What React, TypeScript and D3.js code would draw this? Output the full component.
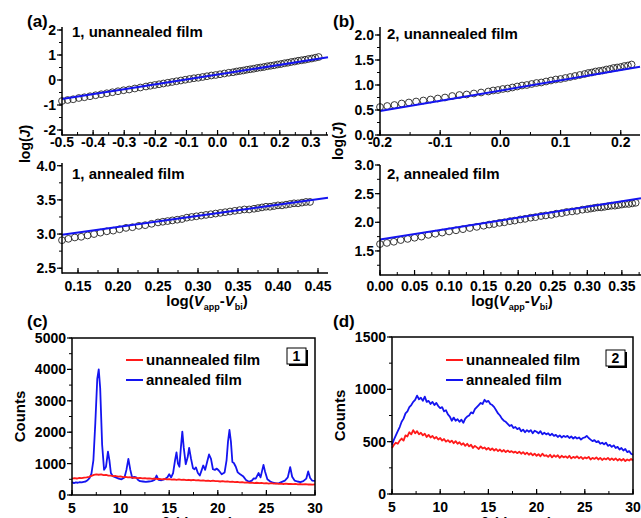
import React from "react";
import * as d3 from "d3";

const FONT = "'Liberation Sans', Arial, Helvetica, sans-serif";
const BLUE = "#1414f0";
const RED = "#ff1a1a";

// (a) top: 1, unannealed film  -- log(V) vs log(J)
const a1X = [-0.5, -0.482, -0.464, -0.446, -0.428, -0.41, -0.392, -0.374, -0.356, -0.338, -0.32, -0.302, -0.284, -0.266, -0.248, -0.23,
  -0.216, -0.202, -0.188, -0.174, -0.16, -0.146, -0.132, -0.118, -0.104, -0.09, -0.076, -0.062, -0.048, -0.034, -0.02, -0.006, 0.008, 0.022, 0.036, 0.05,
  0.061, 0.072, 0.083, 0.094, 0.105, 0.116, 0.127, 0.138, 0.149, 0.16, 0.171, 0.182, 0.193, 0.204, 0.215, 0.226, 0.237, 0.248, 0.259, 0.27, 0.281, 0.292, 0.303, 0.314, 0.325];
const a1Y = [-0.84, -0.8, -0.77, -0.72, -0.69, -0.65, -0.61, -0.57, -0.53, -0.49, -0.45, -0.41, -0.38, -0.34, -0.3, -0.26,
  -0.23, -0.2, -0.17, -0.14, -0.11, -0.08, -0.05, -0.02, 0.01, 0.04, 0.07, 0.09, 0.12, 0.15, 0.18, 0.2, 0.23, 0.26, 0.29, 0.31,
  0.34, 0.36, 0.38, 0.41, 0.43, 0.45, 0.48, 0.5, 0.52, 0.55, 0.57, 0.59, 0.62, 0.64, 0.67, 0.69, 0.72, 0.74, 0.77, 0.79, 0.81, 0.84, 0.86, 0.89, 0.92];
const a1Fit = [[-0.5, -0.76], [0.355, 0.91]];

// (a) bottom: 1, annealed film
const a2X = [0.13, 0.138, 0.146, 0.154, 0.162, 0.17, 0.178, 0.186, 0.194, 0.202, 0.21, 0.218, 0.226, 0.234, 0.242, 0.25,
  0.256, 0.262, 0.268, 0.274, 0.28, 0.286, 0.292, 0.298, 0.304, 0.31, 0.316, 0.322, 0.328, 0.334, 0.34, 0.346, 0.352, 0.358, 0.364, 0.37,
  0.375, 0.38, 0.385, 0.39, 0.395, 0.4, 0.405, 0.41, 0.415, 0.42, 0.425, 0.43, 0.435, 0.44];
const a2Y = [2.91, 2.93, 2.95, 2.96, 2.98, 3.0, 3.02, 3.04, 3.05, 3.07, 3.09, 3.1, 3.12, 3.13, 3.15, 3.17,
  3.18, 3.19, 3.2, 3.21, 3.22, 3.24, 3.25, 3.26, 3.27, 3.28, 3.29, 3.3, 3.31, 3.32, 3.33, 3.34, 3.35, 3.36, 3.36, 3.37,
  3.38, 3.39, 3.4, 3.4, 3.41, 3.42, 3.42, 3.43, 3.44, 3.45, 3.45, 3.46, 3.47, 3.47];
const a2Fit = [[0.13, 2.99], [0.4625, 3.53]];

// (b) top: 2, unannealed film
const b1X = [-0.2, -0.188, -0.176, -0.164, -0.152, -0.14, -0.128, -0.116, -0.104, -0.092, -0.08, -0.068, -0.056, -0.044, -0.032, -0.02,
  -0.012, -0.004, 0.004, 0.012, 0.02, 0.028, 0.036, 0.044, 0.052, 0.06, 0.068, 0.076, 0.084, 0.092, 0.1, 0.108, 0.116, 0.124, 0.132, 0.14,
  0.146, 0.152, 0.158, 0.164, 0.17, 0.176, 0.182, 0.188, 0.194, 0.2, 0.206, 0.212, 0.218];
const b1Y = [0.56, 0.58, 0.6, 0.63, 0.65, 0.67, 0.69, 0.71, 0.73, 0.75, 0.78, 0.8, 0.81, 0.83, 0.85, 0.87,
  0.89, 0.9, 0.92, 0.93, 0.95, 0.97, 0.99, 1.0, 1.02, 1.04, 1.05, 1.07, 1.09, 1.11, 1.12, 1.14, 1.16, 1.18, 1.2, 1.22,
  1.24, 1.25, 1.27, 1.28, 1.29, 1.31, 1.32, 1.34, 1.35, 1.36, 1.38, 1.39, 1.41];
const b1Fit = [[-0.2, 0.48], [0.232, 1.364]];

// (b) bottom: 2, annealed film
const b2X = [0.0, 0.01, 0.02, 0.03, 0.04, 0.05, 0.06, 0.07, 0.08, 0.09, 0.1, 0.11, 0.12, 0.13, 0.14, 0.15,
  0.158, 0.165, 0.173, 0.18, 0.188, 0.195, 0.203, 0.21, 0.218, 0.225, 0.233, 0.24, 0.248, 0.255, 0.263, 0.27, 0.278, 0.285, 0.293, 0.3,
  0.305, 0.31, 0.315, 0.32, 0.325, 0.33, 0.335, 0.34, 0.345, 0.35, 0.355, 0.36, 0.365, 0.37];
const b2Y = [1.62, 1.64, 1.66, 1.69, 1.71, 1.73, 1.75, 1.78, 1.8, 1.82, 1.84, 1.86, 1.88, 1.9, 1.92, 1.94,
  1.96, 1.97, 1.99, 2.0, 2.02, 2.03, 2.05, 2.06, 2.08, 2.09, 2.11, 2.12, 2.13, 2.15, 2.16, 2.18, 2.19, 2.2, 2.22, 2.23,
  2.24, 2.25, 2.26, 2.26, 2.27, 2.28, 2.29, 2.29, 2.3, 2.31, 2.32, 2.32, 2.33, 2.34];
const b2Fit = [[0, 1.7], [0.3777, 2.42]];

// (c) XRD of 1: [2theta, counts]
const cAnnealed: [number, number][] = [
  [5.0, 410], [5.2, 380], [5.4, 400], [5.6, 390], [5.8, 410], [6.0, 400], [6.2, 420], [6.4, 430], [6.6, 470], [6.8, 540],
  [7.0, 680], [7.2, 1100], [7.4, 2300], [7.6, 3700], [7.75, 4000], [7.9, 3400], [8.1, 1600], [8.3, 800], [8.5, 900], [8.7, 1380],
  [8.85, 1100], [9.0, 700], [9.2, 600], [9.5, 560], [9.8, 520], [10.1, 500], [10.4, 560], [10.6, 800], [10.8, 1150], [11.0, 800],
  [11.2, 540], [11.4, 580], [11.6, 560], [11.8, 480], [12.0, 440], [12.3, 430], [12.6, 420], [12.9, 430], [13.2, 440], [13.5, 480],
  [13.7, 620], [13.9, 480], [14.2, 470], [14.5, 500], [14.8, 560], [15.0, 660], [15.2, 560], [15.4, 700], [15.6, 1100], [15.75, 1360],
  [15.9, 1000], [16.05, 900], [16.2, 1500], [16.35, 2020], [16.5, 1500], [16.7, 980], [16.9, 1200], [17.05, 1500], [17.25, 1150], [17.45, 850],
  [17.6, 820], [17.75, 880], [17.95, 700], [18.15, 620], [18.35, 800], [18.5, 940], [18.7, 800], [18.9, 1050], [19.1, 1290], [19.3, 1150],
  [19.5, 820], [19.7, 800], [19.9, 840], [20.1, 780], [20.4, 660], [20.7, 720], [20.9, 1100], [21.05, 1700], [21.2, 2070], [21.35, 1700],
  [21.5, 1050], [21.65, 1020], [21.85, 900], [22.05, 720], [22.3, 660], [22.6, 600], [22.9, 480], [23.2, 420], [23.5, 460], [23.7, 530],
  [23.9, 520], [24.2, 700], [24.4, 560], [24.55, 760], [24.7, 960], [24.85, 760], [25.1, 500], [25.4, 430], [25.7, 390], [26.0, 370],
  [26.3, 380], [26.6, 420], [26.9, 460], [27.2, 560], [27.45, 890], [27.65, 580], [27.9, 460], [28.2, 430], [28.5, 410], [28.8, 440],
  [29.1, 520], [29.3, 750], [29.5, 540], [29.7, 460], [30.0, 450],
];
// unannealed 1, every 0.25 deg from 5
const cUnannealed = [520, 535, 525, 545, 540, 555, 560, 580, 610, 640, 660, 645, 655, 630, 640, 615, 620, 600, 605, 585,
  590, 570, 580, 560, 565, 550, 555, 540, 545, 530, 540, 525, 530, 515, 525, 510, 515, 500, 510, 495,
  505, 490, 500, 485, 495, 480, 490, 475, 485, 470, 480, 465, 470, 455, 465, 450, 460, 445, 455, 440,
  445, 430, 440, 425, 435, 420, 425, 410, 420, 405, 410, 395, 400, 385, 395, 380, 390, 375, 385, 370,
  380, 365, 375, 360, 370, 355, 365, 350, 360, 350, 355, 345, 355, 340, 350, 335, 345, 335, 340, 330, 340];

// (d) XRD of 2, every 0.2 deg from 5
const dAnnealed = [470, 520, 560, 600, 640, 690, 720, 770, 790, 830, 850, 880, 900, 940, 905, 920, 890, 930, 880, 890,
  860, 880, 850, 870, 840, 820, 830, 790, 800, 760, 740, 700, 730, 700, 715, 690, 710, 680, 720, 740,
  750, 780, 770, 810, 830, 850, 870, 860, 900, 880, 890, 860, 850, 830, 800, 770, 750, 720, 700, 690,
  670, 650, 660, 630, 640, 620, 630, 600, 615, 590, 610, 595, 610, 580, 605, 595, 580, 600, 570, 585,
  570, 580, 560, 575, 555, 565, 545, 560, 540, 555, 545, 555, 535, 550, 530, 545, 530, 540, 520, 535,
  540, 555, 535, 520, 505, 515, 495, 505, 480, 490, 475, 490, 460, 470, 450, 465, 440, 450, 425, 440,
  415, 430, 400, 410, 385, 375];
const dUnannealed = [440, 470, 490, 480, 510, 530, 510, 560, 550, 590, 570, 610, 580, 600, 570, 585, 560, 575, 545, 565,
  540, 555, 530, 545, 520, 535, 510, 525, 500, 515, 495, 510, 485, 505, 480, 495, 470, 485, 460, 480,
  455, 470, 440, 460, 445, 430, 455, 435, 445, 425, 440, 420, 435, 415, 430, 410, 425, 405, 420, 400,
  415, 400, 410, 395, 405, 390, 405, 385, 400, 380, 395, 375, 390, 370, 385, 365, 380, 360, 385, 365,
  370, 355, 375, 350, 370, 355, 370, 345, 365, 350, 360, 345, 365, 340, 355, 345, 360, 340, 355, 335,
  350, 340, 355, 330, 345, 335, 350, 330, 345, 325, 340, 330, 345, 325, 340, 325, 340, 320, 335, 320,
  335, 315, 330, 320, 335, 320];

const minorTicks = (d: number[], step: number) => {
  const lo = Math.min(d[0], d[1]);
  const hi = Math.max(d[0], d[1]);
  return d3.range(Math.ceil(lo / step - 1e-9), Math.floor(hi / step + 1e-9) + 1).map((k) => k * step);
};

const jvPanels = [
  {
    key: "a1", xs: a1X, ys: a1Y, fit: a1Fit, title: "1, unannealed film", tx: 72, ty: 37,
    xDomain: [-0.5, 0.355], xRange: [62, 328], yDomain: [-2.2, 2.12], yRange: [135, 27],
    xTicks: [-0.5, -0.4, -0.3, -0.2, -0.1, 0, 0.1, 0.2, 0.3], xDec: 1, xMinor: 0.05, xLab: 12,
    yTicks: [-2, -1, 0, 1, 2], yDec: 0, yMinor: 0.5,
  },
  {
    key: "a2", xs: a2X, ys: a2Y, fit: a2Fit, title: "1, annealed film", tx: 72, ty: 179,
    xDomain: [0.13, 0.4625], xRange: [62, 328], yDomain: [2.43, 4.04], yRange: [273, 163],
    xTicks: [0.15, 0.2, 0.25, 0.3, 0.35, 0.4, 0.45], xDec: 2, xMinor: 0.025, xLab: 18,
    yTicks: [2.5, 3.0, 3.5, 4.0], yDec: 1, yMinor: 0.25,
  },
  {
    key: "b1", xs: b1X, ys: b1Y, fit: b1Fit, title: "2, unannealed film", tx: 387, ty: 39,
    xDomain: [-0.2, 0.232], xRange: [380, 640], yDomain: [0, 2.16], yRange: [135, 27],
    xTicks: [-0.2, -0.1, 0, 0.1, 0.2], xDec: 1, xMinor: 0.05, xLab: 12,
    yTicks: [0, 0.5, 1.0, 1.5, 2.0], yDec: 1, yMinor: 0.25,
  },
  {
    key: "b2", xs: b2X, ys: b2Y, fit: b2Fit, title: "2, annealed film", tx: 387, ty: 179,
    xDomain: [0, 0.3777], xRange: [380, 641], yDomain: [1.08, 3.0], yRange: [275, 165],
    xTicks: [0, 0.05, 0.1, 0.15, 0.2, 0.25, 0.3, 0.35], xDec: 2, xMinor: 0.025, xLab: 16,
    yTicks: [1.5, 2.0, 2.5, 3.0], yDec: 1, yMinor: 0.25,
  },
];

const xrdPanels = [
  {
    key: "c", label: "1", blue: cAnnealed,
    red: cUnannealed.map((v, i) => [5 + i * 0.25, v] as [number, number]),
    xRange: [72, 315], yDomain: [0, 5000], yRange: [495, 338], yTicks: [0, 1000, 2000, 3000, 4000, 5000], yMinor: 500,
    legX: 126, boxX: 287, boxY: 348, countsX: 20,
  },
  {
    key: "d", label: "2",
    blue: dAnnealed.map((v, i) => [5 + i * 0.2, v] as [number, number]),
    red: dUnannealed.map((v, i) => [5 + i * 0.2, v] as [number, number]),
    xRange: [392, 633], yDomain: [0, 1500], yRange: [494, 337], yTicks: [0, 500, 1000, 1500], yMinor: 250,
    legX: 446, boxX: 606, boxY: 350, countsX: 340,
  },
];
const xrdXTicks = [5, 10, 15, 20, 25, 30];

function JVPanel({ p }: { p: any }) {
  const x = d3.scaleLinear().domain(p.xDomain).range(p.xRange);
  const y = d3.scaleLinear().domain(p.yDomain).range(p.yRange);
  const [x0, x1] = p.xRange;
  const [yb, yt] = p.yRange;
  const fitPath = d3.line<number[]>().x((d) => x(d[0])).y((d) => y(d[1]))(p.fit);
  return (
    <g>
      {p.xs.map((v: number, i: number) => (
        <circle key={i} cx={x(v)} cy={y(p.ys[i])} r={3.4} fill="none" stroke="#222" strokeWidth={0.9} />
      ))}
      <path d={fitPath || ""} fill="none" stroke={BLUE} strokeWidth={2} />
      <line x1={x0} x2={x0} y1={yt} y2={yb + 0.75} stroke="#000" strokeWidth={1.5} />
      <line x1={x0} x2={x1} y1={yb} y2={yb} stroke="#000" strokeWidth={1.5} />
      {minorTicks(p.xDomain, p.xMinor).map((v) => (
        <line key={"xm" + v} x1={x(v)} x2={x(v)} y1={yb} y2={yb - 3} stroke="#000" strokeWidth={1} />
      ))}
      {minorTicks(p.yDomain, p.yMinor).map((v) => (
        <line key={"ym" + v} x1={x0} x2={x0 - 3} y1={y(v)} y2={y(v)} stroke="#000" strokeWidth={1} />
      ))}
      {p.yTicks.map((v: number) => (
        <g key={"y" + v}>
          <line x1={x0} x2={x0 - 5} y1={y(v)} y2={y(v)} stroke="#000" strokeWidth={1.2} />
          <text x={x0 - 6} y={y(v)} dy="0.36em" textAnchor="end" fontSize={14} fontWeight="bold">
            {v.toFixed(p.yDec)}
          </text>
        </g>
      ))}
      {p.xTicks.map((v: number) => (
        <g key={"x" + v}>
          <line x1={x(v)} x2={x(v)} y1={yb} y2={yb - 5} stroke="#000" strokeWidth={1.2} />
          <text x={x(v)} y={yb + p.xLab} textAnchor="middle" fontSize={14} fontWeight="bold">
            {v.toFixed(p.xDec)}
          </text>
        </g>
      ))}
      <text x={p.tx} y={p.ty} fontSize={15} fontWeight="bold">{p.title}</text>
    </g>
  );
}

function XRDPanel({ p }: { p: any }) {
  const x = d3.scaleLinear().domain([5, 30]).range(p.xRange);
  const y = d3.scaleLinear().domain(p.yDomain).range(p.yRange);
  const [x0, x1] = p.xRange;
  const [yb, yt] = p.yRange;
  const line = d3.line<[number, number]>().x((d) => x(d[0])).y((d) => y(d[1]));
  return (
    <g>
      <path d={line(p.blue) || ""} fill="none" stroke={BLUE} strokeWidth={1.8} strokeLinejoin="round" />
      <path d={line(p.red) || ""} fill="none" stroke={RED} strokeWidth={1.8} strokeLinejoin="round" />
      <rect x={x0} y={yt} width={x1 - x0} height={yb - yt} fill="none" stroke="#000" strokeWidth={1.5} />
      {minorTicks([5, 30], 2.5).map((v) => (
        <line key={"xm" + v} x1={x(v)} x2={x(v)} y1={yb} y2={yb - 3} stroke="#000" strokeWidth={1} />
      ))}
      {minorTicks(p.yDomain, p.yMinor).map((v) => (
        <line key={"ym" + v} x1={x0} x2={x0 - 3} y1={y(v)} y2={y(v)} stroke="#000" strokeWidth={1} />
      ))}
      {xrdXTicks.map((v) => (
        <g key={"x" + v}>
          <line x1={x(v)} x2={x(v)} y1={yb} y2={yb - 5} stroke="#000" strokeWidth={1.2} />
          <text x={x(v)} y={yb + 18} textAnchor="middle" fontSize={14} fontWeight="bold">{v}</text>
        </g>
      ))}
      {p.yTicks.map((v: number) => (
        <g key={"y" + v}>
          <line x1={x0} x2={x0 - 5} y1={y(v)} y2={y(v)} stroke="#000" strokeWidth={1.2} />
          <text x={x0 - 6} y={y(v)} dy="0.36em" textAnchor="end" fontSize={14} fontWeight="bold">{v}</text>
        </g>
      ))}
      {/* legend */}
      <line x1={p.legX} x2={p.legX + 17} y1={360} y2={360} stroke={RED} strokeWidth={2} />
      <text x={p.legX + 20} y={365} fontSize={15} fontWeight="bold">unannealed film</text>
      <line x1={p.legX} x2={p.legX + 17} y1={380} y2={380} stroke={BLUE} strokeWidth={2} />
      <text x={p.legX + 20} y={385} fontSize={15} fontWeight="bold">annealed film</text>
      <rect x={p.boxX + 2} y={p.boxY + 2} width={19} height={16} fill="#000" />
      <rect x={p.boxX} y={p.boxY} width={19} height={16} fill="#fff" stroke="#000" strokeWidth={1} />
      <text x={p.boxX + 9.5} y={p.boxY + 13} textAnchor="middle" fontSize={14} fontWeight="bold">{p.label}</text>
      <text transform={`translate(${p.countsX},${(yb + yt) / 2}) rotate(-90)`} textAnchor="middle" dy="0.35em" fontSize={15} fontWeight="bold">
        Counts
      </text>
      <text x={(x0 + x1) / 2} y={528} textAnchor="middle" fontSize={15} fontWeight="bold">2θ (degree)</text>
    </g>
  );
}

function VLabel({ cx }: { cx: number }) {
  return (
    <text x={cx} y={306} textAnchor="middle" fontSize={15} fontWeight="bold">
      log(<tspan fontStyle="italic">V</tspan>
      <tspan fontSize={9} dy={4}>app</tspan>
      <tspan dy={-4}>-</tspan>
      <tspan fontStyle="italic">V</tspan>
      <tspan fontSize={9} dy={4}>bi</tspan>
      <tspan dy={-4}>)</tspan>
    </text>
  );
}

export default function App() {
  return (
    <svg
      width={641}
      height={518}
      style={{ position: "absolute", left: 0, top: 0, background: "#fff" }}
      fontFamily={FONT}
    >
      <rect width={641} height={518} fill="#fff" />
      {jvPanels.map((p) => (
        <JVPanel key={p.key} p={p} />
      ))}
      {xrdPanels.map((p) => (
        <XRDPanel key={p.key} p={p} />
      ))}
      <text transform="translate(25,144) rotate(-90)" textAnchor="middle" dy="0.35em" fontSize={14} fontWeight="bold">
        log(<tspan fontStyle="italic">J</tspan>)
      </text>
      <text transform="translate(338,141) rotate(-90)" textAnchor="middle" dy="0.35em" fontSize={14} fontWeight="bold">
        log(<tspan fontStyle="italic">J</tspan>)
      </text>
      <VLabel cx={207} />
      <VLabel cx={512} />
      <text x={27} y={27} fontSize={17} fontWeight="bold">(a)</text>
      <text x={333} y={27} fontSize={17} fontWeight="bold">(b)</text>
      <text x={27} y={327} fontSize={17} fontWeight="bold">(c)</text>
      <text x={333} y={327} fontSize={17} fontWeight="bold">(d)</text>
    </svg>
  );
}
